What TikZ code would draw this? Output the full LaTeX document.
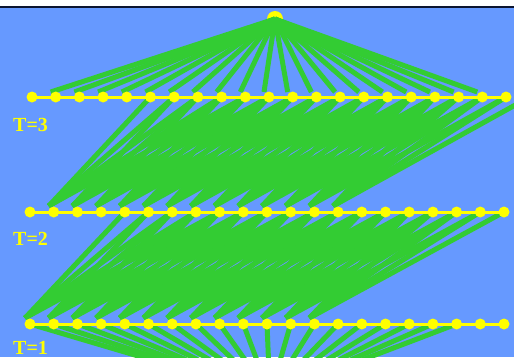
\documentclass[tikz,border=0pt]{standalone}
\usepackage{fontspec}
\setmainfont{Liberation Serif}
\usetikzlibrary{calc,backgrounds}
\definecolor{skyblue}{HTML}{6699FF}
\definecolor{linkgreen}{HTML}{33CC33}
\definecolor{dotyellow}{HTML}{FFFF00}
\definecolor{rulenavy}{HTML}{0B1530}

\begin{document}
\begin{tikzpicture}[x=1pt,y=-1pt,
    unit/.style={circle,fill=dotyellow,minimum size=11pt,inner sep=0pt},
    link/.style={linkgreen,line width=5pt},
    layerline/.style={dotyellow,line width=3pt},
    tlabel/.style={text=dotyellow,font=\fontsize{20}{20}\selectfont\bfseries,anchor=base west,inner sep=0pt}]
    \useasboundingbox (0,0) rectangle (514,357);
    \foreach \t/\y/\x in {3/97/32,2/212/30,1/324/30}
        \foreach \i in {1,...,21}
            \node[unit] (r\t-\i) at ({\x+(\i-1)*23.7},\y) {};
    \coordinate (r3-22) at (529.7,97);
    \coordinate (bot) at (270,395);
    \foreach \t in {1,2,3}
        \draw[layerline] (r\t-1.center) -- (r\t-21.center);
    \node[tlabel] (t3) at (13,131) {T=3};
    \node[tlabel] (t2) at (13,245) {T=2};
    \node[tlabel] (t1) at (13,354) {T=1};
    \begin{scope}[on background layer]
        \clip (0,0) rectangle (514,357);
        \fill[skyblue] (0,0) rectangle (514,357);
        \fill[white] (0,0) rectangle (514,5.7);
        \fill[rulenavy] (0,5.7) rectangle (514,8.3);
        \node[circle,fill=dotyellow,minimum size=16pt,inner sep=0pt] (top) at (275,19) {};
        \foreach \j in {2,...,20}
            \draw[link] (top.center) -- ($(r3-\j)+(-5,-5)$);
        \foreach \i in {2,...,14}
            \foreach \k in {4,...,8} {
                \pgfmathtruncatemacro\j{\i+\k}
                \ifnum\j<23 \draw[link] (r3-\j.center) -- ($(r2-\i)+(-5,-6)$); \fi
            }
        \foreach \i in {1,...,13}
            \foreach \k in {4,...,8} {
                \pgfmathtruncatemacro\j{\i+\k}
                \ifnum\j<22 \draw[link] (r2-\j.center) -- ($(r1-\i)+(-5,-6)$); \fi
            }
        \foreach \i in {1,...,19}
            \draw[link] (r1-\i.center) -- (bot);
    \end{scope}
\end{tikzpicture}
\end{document}
